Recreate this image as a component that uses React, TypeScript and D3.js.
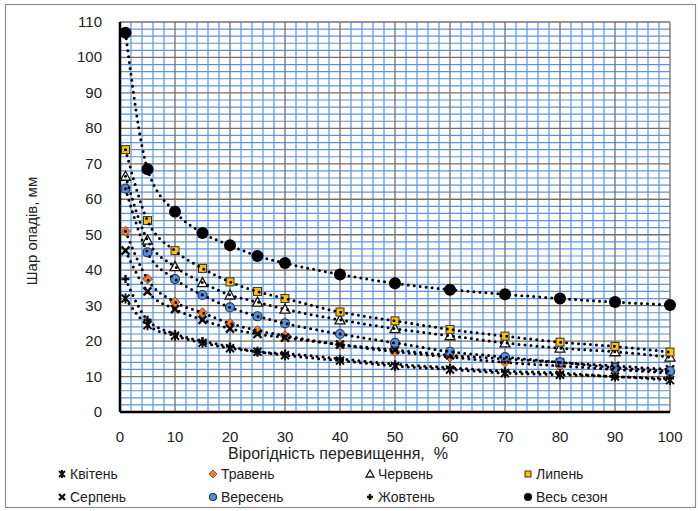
import React, { useEffect, useRef } from 'react';
import * as d3 from 'd3';

// exceedance probability, %
const probability = [1, 5, 10, 15, 20, 25, 30, 40, 50, 60, 70, 80, 90, 100];

// precipitation depth, mm
const kviten = [32, 24.5, 21.5, 19.5, 18, 17, 16, 14.5, 13, 12, 11, 10.5, 10, 9];
const traven = [51, 37.5, 31, 28, 25, 23, 21.5, 19, 17, 15.5, 14, 13, 12, 11];
const cherven = [66.5, 48.5, 41, 36.5, 33, 31, 29, 26, 23.5, 21.5, 19.5, 18, 17, 15.5];
const lypen = [74, 54, 45.5, 40.5, 36.7, 34, 32, 28.2, 25.7, 23.3, 21.4, 19.7, 18.5, 16.9];
const serpen = [45.5, 34, 29, 26, 23.5, 22, 21, 19, 17.5, 16, 15, 14, 13, 12];
const veresen = [63, 45, 37.5, 33, 29.5, 27, 25, 22, 19.5, 17, 15.5, 14, 12.5, 11.5];
const zhovten = [37.5, 26, 22, 20, 18.5, 17, 16.5, 15, 13.5, 12.5, 11.5, 11, 10, 9.5];
const vesSezon = [107, 68.5, 56.5, 50.5, 47, 44, 42, 38.8, 36.3, 34.5, 33.2, 32, 31, 30.2];

const xTicks = [0, 10, 20, 30, 40, 50, 60, 70, 80, 90, 100];
const yTicks = [0, 10, 20, 30, 40, 50, 60, 70, 80, 90, 100, 110];

const series = [
  { name: 'Квітень', values: kviten, marker: 'star' },
  { name: 'Травень', values: traven, marker: 'diamond' },
  { name: 'Червень', values: cherven, marker: 'triangle' },
  { name: 'Липень', values: lypen, marker: 'square' },
  { name: 'Серпень', values: serpen, marker: 'x' },
  { name: 'Вересень', values: veresen, marker: 'circle' },
  { name: 'Жовтень', values: zhovten, marker: 'plus' },
  { name: 'Весь сезон', values: vesSezon, marker: 'big' },
];

const FONT = '"Liberation Sans", Arial, sans-serif';

function drawMarker(g: any, type: string, s: number) {
  if (type === 'star') {
    g.append('path')
      .attr('d', `M${-s},${-s}L${s},${s}M${-s},${s}L${s},${-s}M0,${-s - 1}L0,${s + 1}`)
      .attr('stroke', '#111').attr('stroke-width', 2).attr('fill', 'none');
  } else if (type === 'diamond') {
    g.append('path')
      .attr('d', `M0,${-s - 1}L${s + 1},0L0,${s + 1}L${-s - 1},0Z`)
      .attr('fill', '#ed7d31').attr('stroke', '#7a3a10').attr('stroke-width', 0.8);
  } else if (type === 'triangle') {
    g.append('path')
      .attr('d', `M0,${-s - 1}L${s + 1},${s}L${-s - 1},${s}Z`)
      .attr('fill', '#fff').attr('stroke', '#111').attr('stroke-width', 1.3);
  } else if (type === 'square') {
    g.append('rect')
      .attr('x', -s).attr('y', -s).attr('width', 2 * s).attr('height', 2 * s)
      .attr('fill', '#ffc000').attr('stroke', '#333').attr('stroke-width', 1);
  } else if (type === 'x') {
    g.append('path')
      .attr('d', `M${-s},${-s}L${s},${s}M${-s},${s}L${s},${-s}`)
      .attr('stroke', '#111').attr('stroke-width', 2.4).attr('fill', 'none');
  } else if (type === 'circle') {
    g.append('circle').attr('r', s + 0.5)
      .attr('fill', '#5b8fd9').attr('stroke', '#1f3a66').attr('stroke-width', 1.2);
  } else if (type === 'plus') {
    g.append('path')
      .attr('d', `M${-s},0L${s},0M0,${-s}L0,${s}`)
      .attr('stroke', '#111').attr('stroke-width', 2.4).attr('fill', 'none');
  } else if (type === 'big') {
    g.append('circle').attr('r', s + 2).attr('fill', '#000');
  }
}

const App = () => {
  const ref = useRef<SVGSVGElement>(null);

  useEffect(() => {
    const width = 698;
    const height = 511;
    const left = 120, right = 670, top = 22, bottom = 412;

    const svg = d3.select(ref.current);
    svg.selectAll('*').remove();

    svg.append('rect').attr('width', width).attr('height', height).attr('fill', '#fff');
    // outer chart frame
    svg.append('rect')
      .attr('x', 5.5).attr('y', 4.5).attr('width', 690).attr('height', 503)
      .attr('fill', 'none').attr('stroke', '#8c8c8c').attr('stroke-width', 1.2);

    const x = d3.scaleLinear().domain([0, 100]).range([left, right]);
    const y = d3.scaleLinear().domain([0, 110]).range([bottom, top]);

    const grid = svg.append('g');
    // minor grid every 2 units
    d3.range(2, 100, 2).filter(v => v % 10 !== 0).forEach(v => {
      grid.append('line').attr('x1', x(v)).attr('x2', x(v)).attr('y1', top).attr('y2', bottom)
        .attr('stroke', '#5b93dc').attr('stroke-width', 1.2);
    });
    d3.range(2, 110, 2).filter(v => v % 10 !== 0).forEach(v => {
      grid.append('line').attr('x1', left).attr('x2', right).attr('y1', y(v)).attr('y2', y(v))
        .attr('stroke', '#5b93dc').attr('stroke-width', 1.2);
    });
    // major grid
    xTicks.forEach(v => {
      grid.append('line').attr('x1', x(v)).attr('x2', x(v)).attr('y1', top).attr('y2', bottom)
        .attr('stroke', '#707070').attr('stroke-width', 1.3);
    });
    yTicks.forEach(v => {
      grid.append('line').attr('x1', left).attr('x2', right).attr('y1', y(v)).attr('y2', y(v))
        .attr('stroke', '#707070').attr('stroke-width', 1.3);
    });

    // axes lines
    svg.append('line').attr('x1', left).attr('x2', left).attr('y1', top).attr('y2', bottom)
      .attr('stroke', '#000').attr('stroke-width', 2.5);
    svg.append('line').attr('x1', left).attr('x2', right).attr('y1', bottom).attr('y2', bottom)
      .attr('stroke', '#000').attr('stroke-width', 2.5);

    // tick labels
    svg.append('g').selectAll('text').data(yTicks).enter().append('text')
      .attr('x', 102).attr('y', d => y(d) + 5)
      .attr('text-anchor', 'end')
      .style('font-family', FONT).style('font-size', '15px').style('fill', '#222')
      .text(d => d);
    svg.append('g').selectAll('text').data(xTicks).enter().append('text')
      .attr('x', d => x(d)).attr('y', 442)
      .attr('text-anchor', 'middle')
      .style('font-family', FONT).style('font-size', '15px').style('fill', '#222')
      .text(d => d);

    // axis titles
    svg.append('text')
      .attr('x', 338).attr('y', 459)
      .attr('text-anchor', 'middle')
      .style('white-space', 'pre')
      .style('font-family', FONT).style('font-size', '16px').style('fill', '#222')
      .text('Вірогідність перевищення,  %');
    svg.append('text')
      .attr('transform', 'translate(37,231) rotate(-90)')
      .attr('text-anchor', 'middle')
      .style('font-family', FONT).style('font-size', '15px').style('fill', '#222')
      .text('Шар опадів, мм');

    // markers
    series.forEach(s => {
      s.values.forEach((v, i) => {
        const g = svg.append('g').attr('transform', `translate(${x(probability[i])},${y(v)})`);
        drawMarker(g, s.marker, 4);
      });
    });

    // dotted trend lines
    const line = d3.line<number>()
      .x((_, i) => x(probability[i]))
      .y(d => y(d))
      .curve(d3.curveMonotoneX);
    series.forEach(s => {
      svg.append('path')
        .attr('d', line(s.values))
        .attr('fill', 'none')
        .attr('stroke', '#000')
        .attr('stroke-width', 3)
        .attr('stroke-linecap', 'round')
        .attr('stroke-dasharray', '0 6');
    });

    // legend
    const legendCols = [62, 213, 370, 528];
    const legendRows = [474, 497];
    series.forEach((s, i) => {
      const cx = legendCols[i % 4];
      const cy = legendRows[Math.floor(i / 4)];
      const g = svg.append('g').attr('transform', `translate(${cx},${cy})`);
      drawMarker(g, s.marker, s.marker === 'big' ? 2 : 3);
      svg.append('text')
        .attr('x', cx + 8).attr('y', cy + 5)
        .style('font-family', FONT).style('font-size', '14px').style('fill', '#222')
        .text(s.name);
    });
  }, []);

  return (
    <svg ref={ref} width={698} height={511}
      style={{ position: 'absolute', left: 0, top: 0, display: 'block' }} />
  );
};

export default App;
